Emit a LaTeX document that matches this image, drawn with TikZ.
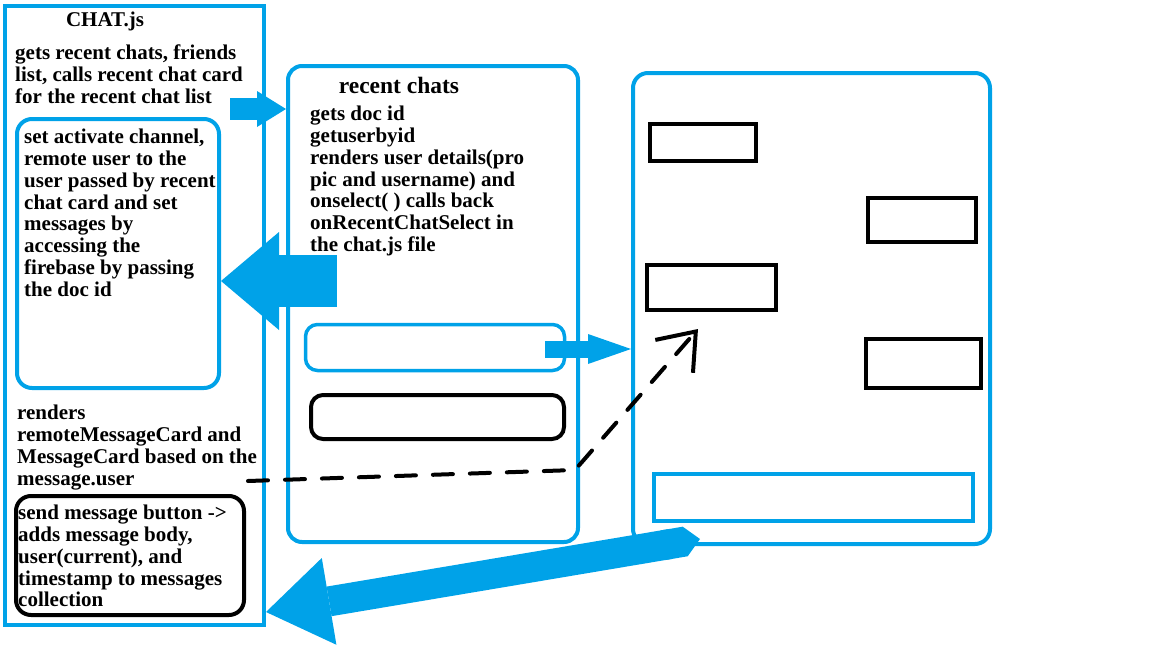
\documentclass[tikz,border=0pt]{standalone}
\usepackage{fontspec}
\setmainfont{Liberation Serif}
\usetikzlibrary{arrows.meta, positioning, calc}
\definecolor{paintBlue}{HTML}{00A2E8}
\tikzset{
    % Boxes
    blueFrame/.style={draw=paintBlue, line width=4pt, inner sep=0pt},
    blueRound/.style={blueFrame, rounded corners=15pt},
    blackRect/.style={draw=black, line width=4pt, inner sep=0pt},
    blackRound/.style={blackRect, rounded corners=15pt},
    % Texts
    noteText/.style={inner sep=0pt, anchor=north west, align=left, font=\bfseries\fontsize{21}{21.8}\selectfont},
    titleText/.style={inner sep=0pt, anchor=base, font=\bfseries\fontsize{21}{21.8}\selectfont},
    % Connectors
    blockArrow/.style={draw=paintBlue, line cap=butt},
    dashFlow/.style={draw=black, line width=4pt, dash pattern=on 20pt off 17pt, line cap=round,
        -{Straight Barb[length=33pt,width=50pt,line width=4pt]}}
}

\begin{document}
\begin{tikzpicture}[x=1pt, y=-1pt]
    \useasboundingbox (0,0) rectangle (1152,648);

    % CHAT.js column
    \node[blueFrame, minimum width=259pt, minimum height=619pt] (chat) at (134.5,315.5) {};
    \node[titleText] (chatTitle) at (105,26) {CHAT.js};
    \node[noteText] (chatDesc) at (15,45) {gets recent chats, friends\\list, calls recent chat card\\for the recent chat list};
    \node[blueRound, minimum width=202pt, minimum height=269pt] (channel) at (118,253.5) {};
    \node[noteText] (channelText) at (24,129) {set activate channel,\\remote user to the\\user passed by recent\\chat card and set\\messages by\\accessing the\\firebase by passing\\the doc id};
    \node[noteText] (rendersText) at (17,405) {renders\\remoteMessageCard and\\MessageCard based on the\\message.user};
    \node[blackRound, minimum width=228pt, minimum height=119pt] (sendBox) at (130,555.5) {};
    \node[noteText] (sendText) at (18,505) {send message button ->\\adds message body,\\user(current), and\\timestamp to messages\\collection};

    % recent chats column
    \node[blueFrame, rounded corners=14pt, minimum width=290pt, minimum height=476pt] (recent) at (433,304) {};
    \node[titleText, font=\bfseries\fontsize{23.5}{24}\selectfont] (recentTitle) at (399,93) {recent chats};
    \node[noteText] (recentText) at (310,106) {gets doc id\\getuserbyid\\renders user details(pro\\pic and username) and\\onselect( ) calls back\\onRecentChatSelect in\\the chat.js file};
    \node[blueFrame, line width=3.5pt, rounded corners=12pt, minimum width=259pt, minimum height=46pt] (cardBlue) at (435,347.5) {};
    \node[blackRound, rounded corners=12pt, minimum width=253pt, minimum height=44pt] (cardBlack) at (437.5,417) {};

    % message screen
    \node[blueFrame, rounded corners=15pt, minimum width=357pt, minimum height=471pt] (screen) at (811.5,308.5) {};
    \node[blackRect, minimum width=106pt, minimum height=37pt] (msgA) at (703,142.5) {};
    \node[blackRect, minimum width=108pt, minimum height=44pt] (msgB) at (922,220) {};
    \node[blackRect, minimum width=129pt, minimum height=45pt] (msgC) at (711.5,287.5) {};
    \node[blackRect, minimum width=115pt, minimum height=49pt] (msgD) at (923.5,363.5) {};
    \node[blueFrame, minimum width=319pt, minimum height=47pt] (msgBar) at (813.5,497.5) {};

    % connectors
    \coordinate (chatOut) at (230,109);
    \draw[blockArrow, line width=22pt, -{Triangle[length=29pt,width=36pt,line width=0pt]}] (chatOut) -- (chatOut -| recent.west);
    \coordinate (selectOut) at (337,281);
    \draw[blockArrow, line width=52pt, -{Triangle[length=58pt,width=98pt,line width=0pt]}] (selectOut) -- (selectOut -| channel.east);
    \coordinate (cardOut) at (545,349);
    \draw[blockArrow, line width=17pt, -{Triangle[length=43pt,width=30pt,line width=0pt]}] (cardOut) -- (cardOut -| screen.west);
    \coordinate (barOut) at (700,539);
    \draw[blockArrow, line width=30pt, {Triangle Cap}-{Triangle[length=64pt,width=88pt,line width=0pt]}] (barOut) -- ([yshift=15pt]chat.south east);
    \coordinate (userOut) at (248,481);
    \coordinate (dashBend) at (575,470);
    \coordinate (dashTip) at (698,329);
    \draw[dashFlow] (userOut) -- (dashBend) -- (dashTip);
\end{tikzpicture}
\end{document}
